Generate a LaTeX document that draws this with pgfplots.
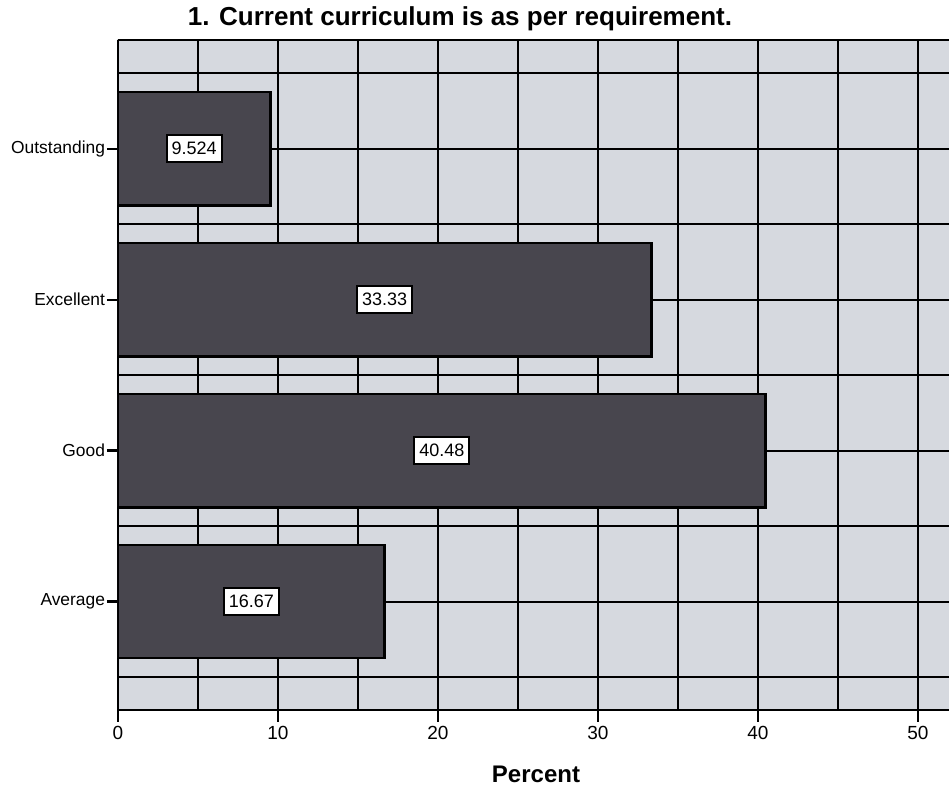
\documentclass[border=0pt]{standalone}
\usepackage{fontspec}
\setmainfont{Liberation Sans}
\usepackage{pgfplots}
\pgfplotsset{compat=1.18}
\usepackage{pgfplotstable}
\definecolor{bgcol}{RGB}{214,217,223}
\definecolor{barcol}{RGB}{72,70,78}
\pgfplotstableread{
y v
0 16.67
1 40.48
2 33.33
3 9.524
}\data
\begin{document}
\begin{tikzpicture}
\begin{axis}[
 at={(0,0)}, anchor=south west, scale only axis,
 width=415.5pt, height=335.5pt,
 xmin=0, xmax=51.94, ymin=-0.725, ymax=3.72,
 bar width=0.75,
 axis background/.style={fill=bgcol},
 axis line style={draw=none},
 xtick={0,10,...,50}, minor xtick={5,15,...,55},
 ytick={0,1,2,3}, yticklabels={Average,Good,Excellent,Outstanding},
 minor ytick={-0.5,0.5,1.5,2.5,3.5},
 grid=both,
 major grid style={black, line width=1pt},
 minor grid style={black, line width=1pt},
 tick align=outside, xtick pos=left, ytick pos=left,
 major tick length=5.5pt, minor tick length=0pt,
 tick style={black, line width=1.1pt},
 xticklabel style={font=\fontsize{9.5}{11}\selectfont, inner sep=2pt},
 yticklabel style={font=\fontsize{8.7}{10}\selectfont, inner xsep=0.8pt},
 /pgf/number format/assume math mode=true,
]
\addplot[xbar, fill=barcol, draw=black, line width=1.3pt] table[x=v,y=y]{\data};
\addplot[only marks, mark=none, nodes near coords, point meta=explicit symbolic,
  every node near coord/.append style={draw=black, fill=white, line width=0.9pt,
  anchor=center, inner xsep=2.5pt, inner ysep=3.5pt, text=black, font=\fontsize{9}{10}\selectfont}]
  table[x expr=\thisrow{v}/2, y=y, meta=v]{\data};
\draw[black, line width=1.5pt] (rel axis cs:1,1) -- (rel axis cs:0,1) -- (rel axis cs:0,0) -- (rel axis cs:1,0);
\end{axis}
\node[font=\bfseries\fontsize{13}{15}\selectfont] at (171pt,346pt) {1. Current curriculum is as per requirement.};
\node[font=\bfseries\fontsize{12}{14}\selectfont] at (209pt,-31.5pt) {Percent};
\pgfresetboundingbox
\path[use as bounding box] (-59pt,-37.5pt) rectangle (415.5pt,355.5pt);
\end{tikzpicture}
\end{document}
